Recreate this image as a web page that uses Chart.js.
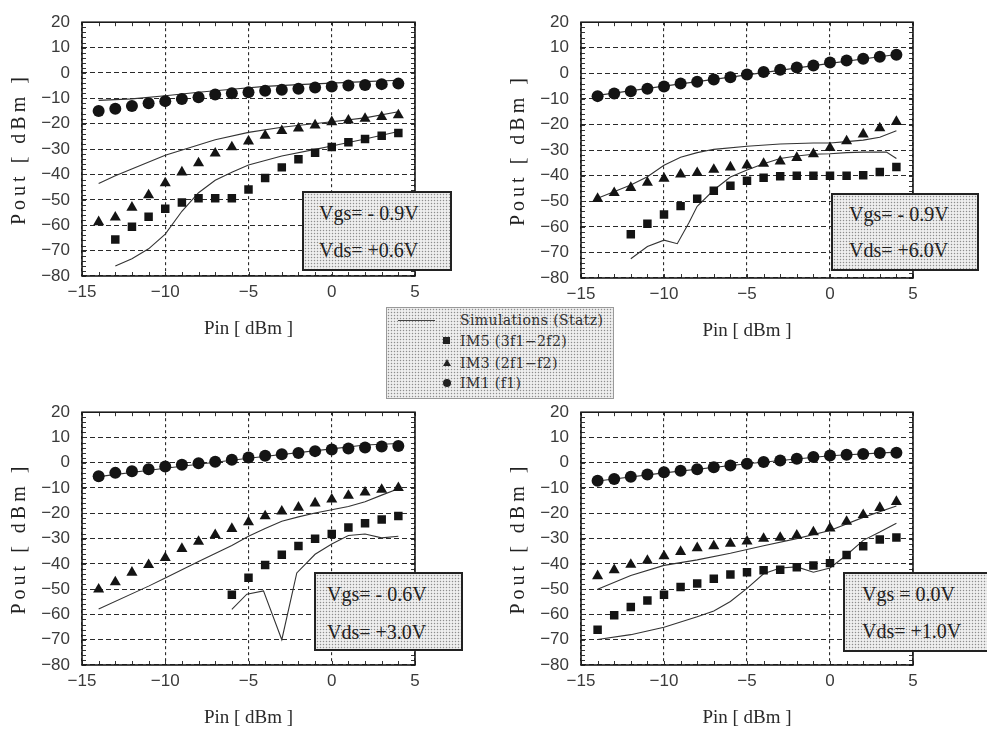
<!DOCTYPE html>
<html><head><meta charset="utf-8">
<script src="https://cdn.jsdelivr.net/npm/chart.js@4/dist/chart.umd.min.js"></script>
<style>
body{margin:0;background:#fff;width:987px;height:729px;overflow:hidden;position:relative;font-family:'Liberation Serif',serif}
.pw{position:absolute}
.dots{background-color:#efefef;background-image:radial-gradient(circle,#8e8e8e 0.75px,transparent 1.05px);background-size:3px 3px}
.box{position:absolute;border:2px solid #222;box-sizing:border-box;z-index:5}
.box div{position:absolute;font-size:20px;line-height:24px;color:#222;white-space:pre}
.leg{position:absolute;left:386px;top:307px;width:228px;height:92px;border:1px solid #999;box-sizing:border-box;z-index:5;font-family:'DejaVu Serif',serif;font-size:14px;letter-spacing:0.4px;color:#333}
.leg .t{position:absolute;left:73px;line-height:16px;white-space:pre}
.leg .ln{position:absolute;left:11px;top:12px;width:37px;border-top:1px solid #444}
.leg .sq{position:absolute;left:56px;width:7px;height:7px;background:#222}
.leg .ci{position:absolute;left:56px;width:8px;height:8px;border-radius:50%;background:#222}
.leg .tr{position:absolute;left:56px;width:0;height:0;border-left:4px solid transparent;border-right:4px solid transparent;border-bottom:7px solid #222}
</style>
</head><body>

<div class="pw" style="left:0;top:0"><canvas id="c1" width="440" height="340"></canvas></div>
<div class="pw" style="left:499px;top:0"><canvas id="c2" width="440" height="342"></canvas></div>
<div class="pw" style="left:0;top:390px"><canvas id="c3" width="440" height="339"></canvas></div>
<div class="pw" style="left:499px;top:390px"><canvas id="c4" width="440" height="339"></canvas></div>

<div class="box dots" style="left:302px;top:191px;width:150px;height:80px"><div style="left:15px;top:8px">Vgs= - 0.9V</div><div style="left:15px;top:45px">Vds= +0.6V</div></div>
<div class="box dots" style="left:831px;top:193px;width:148px;height:78px"><div style="left:16px;top:7px">Vgs= - 0.9V</div><div style="left:16px;top:43px">Vds= +6.0V</div></div>
<div class="box dots" style="left:314px;top:572px;width:149px;height:79px"><div style="left:11px;top:8px">Vgs= - 0.6V</div><div style="left:11px;top:46px">Vds= +3.0V</div></div>
<div class="box dots" style="left:843px;top:572px;width:150px;height:80px"><div style="left:17px;top:8px">Vgs = 0.0V</div><div style="left:17px;top:45px">Vds= +1.0V</div></div>

<div class="leg dots">
  <div class="ln"></div><div class="t" style="top:4px">Simulations (Statz)</div>
  <div class="sq" style="top:29px"></div><div class="t" style="top:25px">IM5 (3f1−2f2)</div>
  <div class="tr" style="top:51px"></div><div class="t" style="top:47px">IM3 (2f1−f2)</div>
  <div class="ci" style="top:71px"></div><div class="t" style="top:67px">IM1 (f1)</div>
</div>

<script>
// ---- axis ticks ----
const xTickValues = [-15, -10, -5, 0, 5];
const yTickValues = [-80, -70, -60, -50, -40, -30, -20, -10, 0, 10, 20];

// ---- measured input power points (dBm) ----
const pinDbm = [-14,-13,-12,-11,-10,-9,-8,-7,-6,-5,-4,-3,-2,-1,0,1,2,3,4];

// ---- Panel A: Vgs=-0.9V, Vds=+0.6V ----
const aIM1 = [-15.0,-14.1,-13.0,-11.9,-11.1,-10.3,-9.6,-8.5,-8.0,-7.6,-7.0,-6.6,-6.2,-5.7,-5.3,-4.9,-4.7,-4.4,-4.2];
const aIM3 = [-58.7,-56.9,-53.0,-48.1,-43.4,-39.1,-35.5,-31.7,-29.2,-26.9,-24.7,-22.8,-21.8,-20.6,-19.3,-18.7,-18.0,-17.3,-16.6];
const aIM5 = [null,-65.6,-60.6,-56.7,-53.5,-51.0,-49.4,-49.4,-49.4,-45.9,-41.4,-37.2,-34.0,-31.4,-29.2,-27.3,-26.0,-24.7,-23.7];
const aSimX1 = [-14,-12,-10,-8,-6,-4,-2,0,2,4];
const aSim1  = [-10.8,-10.2,-9.0,-7.6,-6.4,-5.3,-4.6,-4.0,-3.4,-2.9];
const aSimX3 = [-14,-13,-10,-7,-5,-3,0,2,4];
const aSim3  = [-43.6,-40.5,-32.4,-26.3,-23.4,-21.4,-19.2,-17.7,-15.3];
const aSimX5 = [-13,-12,-11,-10,-9,-8,-7,-6,-5,-3,-1,0,2,4];
const aSim5  = [-76.1,-73.2,-69.3,-63.5,-54.5,-47.2,-42.3,-39.1,-36.3,-32.7,-30.1,-28.8,-26.0,-23.1];

// ---- Panel B: Vgs=-0.9V, Vds=+6.0V ----
const bIM1 = [-8.9,-7.9,-7.0,-6.0,-5.1,-4.0,-3.3,-2.4,-1.5,-0.4,0.5,1.4,2.3,3.1,4.2,5.0,5.7,6.5,7.3];
const bIM3 = [-49.0,-46.7,-44.7,-42.7,-41.1,-39.5,-38.9,-37.6,-36.7,-35.9,-35.3,-34.4,-33.0,-31.5,-29.1,-26.5,-23.8,-21.4,-18.9];
const bIM5 = [null,null,-62.9,-58.8,-55.2,-51.9,-49.0,-45.9,-43.9,-42.0,-40.8,-40.2,-40.0,-40.0,-40.0,-40.0,-39.8,-38.6,-36.6];
const bSimX1 = [-14,-10,-5,0,4];
const bSim1  = [-8.6,-5.0,-0.6,3.9,7.4];
const bSimX3 = [-14,-12,-11,-10,-9,-8,-7,-5,-3,-1,0,1,2,3,4];
const bSim3  = [-48.8,-43.6,-40.4,-35.9,-32.8,-31.0,-29.7,-28.5,-27.6,-27.2,-27.2,-26.7,-26.1,-25.0,-22.4];
const bSimX5 = [-12,-11,-10,-9.2,-8.5,-8,-7,-6,-5,-4,-3,-2,-1,0,1,2,3,3.4,4];
const bSim5  = [-72.5,-67.7,-65.2,-66.6,-58.4,-52.0,-45.6,-40.5,-37.8,-35.3,-33.3,-32.3,-31.6,-31.4,-31.0,-30.8,-30.8,-30.8,-33.3];

// ---- Panel C: Vgs=-0.6V, Vds=+3.0V ----
const cIM1 = [-5.3,-4.0,-3.4,-2.6,-1.5,-0.8,-0.2,0.4,1.2,2.1,2.8,3.4,3.9,4.6,5.2,5.6,6.0,6.4,6.6];
const cIM3 = [-50.1,-47.2,-43.4,-40.4,-37.6,-34.0,-31.2,-28.5,-26.1,-23.5,-21.1,-19.2,-17.7,-16.0,-14.5,-13.0,-11.7,-10.6,-9.9];
const cIM5 = [null,null,null,null,null,null,null,null,-52.2,-45.5,-40.4,-36.4,-32.9,-30.1,-28.2,-25.6,-23.9,-22.4,-21.1];
const cSimX1 = [-14,-10,-5,0,2,4];
const cSim1  = [-5.5,-2.2,1.8,5.5,7.0,7.6];
const cSimX3 = [-14,-11,-10,-8,-6,-5,-4,-3,-2,-1,0,1,2,3,4];
const cSim3  = [-57.8,-48.8,-45.6,-39.1,-32.7,-29.1,-26.0,-23.1,-21.4,-19.9,-18.6,-17.3,-15.4,-12.8,-10.3];
const cSimX5 = [-6,-5.1,-4.1,-3,-2.1,-1,0,1,2,3,4];
const cSim5  = [-58.0,-52.0,-50.7,-70.0,-43.6,-36.2,-32.1,-28.8,-28.2,-29.7,-29.1];

// ---- Panel D: Vgs=0.0V, Vds=+1.0V ----
const dIM1 = [-7.1,-6.4,-5.5,-4.6,-3.8,-3.2,-2.6,-1.8,-1.1,-0.4,0.3,0.9,1.6,2.3,2.9,3.2,3.5,3.9,4.0];
const dIM3 = [-44.8,-42.4,-40.3,-38.7,-36.9,-35.2,-33.7,-32.9,-32.0,-31.1,-30.0,-29.6,-28.7,-27.4,-25.9,-23.3,-20.6,-17.8,-15.4];
const dIM5 = [-66.1,-60.3,-57.1,-54.5,-52.2,-49.1,-47.8,-45.9,-44.2,-43.3,-42.5,-42.3,-41.3,-40.6,-39.7,-36.5,-33.0,-30.4,-29.6];
const dSimX1 = [-14,-10,-5,0,4];
const dSim1  = [-7.2,-4.0,-0.4,2.8,4.2];
const dSimX3 = [-14,-12,-10,-8,-6,-4,-2,0,2,4];
const dSim3  = [-50.0,-44.6,-40.6,-38.4,-35.8,-32.8,-30.0,-26.8,-21.6,-17.1];
const dSimX5 = [-14,-12,-10,-8,-7,-6,-5,-4,-3,-2,-1,0,1,2,3,4];
const dSim5  = [-69.9,-68.0,-65.1,-60.9,-58.6,-54.9,-49.7,-43.9,-41.6,-41.2,-43.3,-41.6,-36.5,-30.7,-27.4,-23.9];

function pts(xs, ys){ const out=[]; xs.forEach((x,i)=>{ if(ys[i]!==null && ys[i]!==undefined) out.push({x:x,y:ys[i]}); }); return out; }
function fmt(v){ return String(v).replace('-', '\u2212'); }

const framePlugin = {
  id:'frame',
  beforeDatasetsDraw(chart){
    const ctx = chart.ctx, a = chart.chartArea, xs = chart.scales.x, ys = chart.scales.y;
    ctx.save();
    ctx.strokeStyle = '#333'; ctx.lineWidth = 1;
    ctx.beginPath();
    for (let v = -15; v <= 5; v += 1){
      const px = Math.round(xs.getPixelForValue(v)) + 0.5;
      ctx.moveTo(px, a.bottom); ctx.lineTo(px, a.bottom - 4);
      ctx.moveTo(px, a.top); ctx.lineTo(px, a.top + 4);
    }
    for (let v = -80; v <= 20; v += 2){
      const py = Math.round(ys.getPixelForValue(v)) + 0.5;
      ctx.moveTo(a.left, py); ctx.lineTo(a.left + 4, py);
      ctx.moveTo(a.right, py); ctx.lineTo(a.right - 4, py);
    }
    ctx.stroke();
    ctx.strokeStyle = '#1a1a1a'; ctx.lineWidth = 1.6;
    ctx.strokeRect(a.left, a.top, a.right - a.left, a.bottom - a.top);
    ctx.restore();
  }
};
const spacingPlugin = {
  id:'spacing',
  beforeDraw(chart){
    const s = chart.scales.y;
    if (s && !s._spaced){
      const orig = s.drawTitle;
      s.drawTitle = function(){ const c = this.ctx; c.save(); c.letterSpacing = '4px'; orig.apply(this, arguments); c.restore(); };
      s._spaced = true;
    }
  }
};

function makePanel(id, topPad, rightPad, im1, im3, im5, sx1, s1, sx3, s3, sx5, s5){
  const lineDs = (xs, ys) => ({data: pts(xs, ys), showLine:true, pointRadius:0, borderColor:'#333', borderWidth:1.1, tension:0, fill:false});
  const markDs = (ys, style, r) => ({data: pts(pinDbm, ys), showLine:false, pointStyle:style, pointRadius:r, backgroundColor:'#141414', borderColor:'#141414', borderWidth:0});
  new Chart(document.getElementById(id), {
    type:'scatter',
    data:{ datasets:[
      markDs(im1,'circle',6), markDs(im3,'triangle',6.4), markDs(im5,'rect',6),
      lineDs(sx1,s1), lineDs(sx3,s3), lineDs(sx5,s5)
    ]},
    options:{
      responsive:false, animation:false, devicePixelRatio:1,
      layout:{padding:{left:0, top:topPad, right:rightPad, bottom:0}},
      plugins:{legend:{display:false}, tooltip:{enabled:false}},
      scales:{
        x:{type:'linear', min:-15, max:5,
           afterBuildTicks:(s)=>{ s.ticks = xTickValues.map(v=>({value:v})); },
           afterFit:(s)=>{ s.height = 64; },
           grid:{color:'#2a2a2a', lineWidth:1.1, drawTicks:false},
           border:{display:false, dash:[3,3]},
           ticks:{padding:6, color:'#3a3a3a', font:{family:'Liberation Sans', size:17}, callback:fmt, maxRotation:0},
           title:{display:true, text:'Pin [ dBm ]', color:'#2a2a2a', font:{family:'Liberation Serif', size:19}, padding:{top:3, bottom:0}}},
        y:{type:'linear', min:-80, max:20,
           afterBuildTicks:(s)=>{ s.ticks = yTickValues.map(v=>({value:v})); },
           afterFit:(s)=>{ s.width = 82; },
           grid:{color:'#2a2a2a', lineWidth:1.1, drawTicks:false},
           border:{display:false, dash:[5,3]},
           ticks:{padding:12, color:'#3a3a3a', font:{family:'Liberation Sans', size:17}, callback:fmt},
           title:{display:true, text:'Pout [ dBm ]', color:'#222', font:{family:'Liberation Serif', size:20}, padding:{top:8, bottom:0}}}
      }
    },
    plugins:[framePlugin, spacingPlugin]
  });
}

makePanel('c1', 17, 25, aIM1, aIM3, aIM5, aSimX1, aSim1, aSimX3, aSim3, aSimX5, aSim5);
makePanel('c2', 18, 26, bIM1, bIM3, bIM5, bSimX1, bSim1, bSimX3, bSim3, bSimX5, bSim5);
makePanel('c3', 16, 25, cIM1, cIM3, cIM5, cSimX1, cSim1, cSimX3, cSim3, cSimX5, cSim5);
makePanel('c4', 18, 26, dIM1, dIM3, dIM5, dSimX1, dSim1, dSimX3, dSim3, dSimX5, dSim5);
</script>
</body></html>
